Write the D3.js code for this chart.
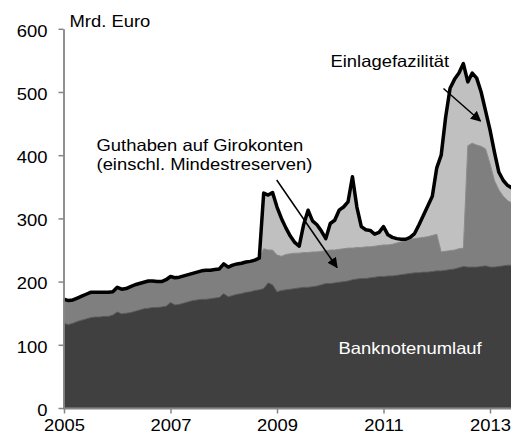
<!DOCTYPE html>
<html lang="de">
<head>
<meta charset="UTF-8">
<title>Zentralbankgeld im Euroraum</title>
<script src="https://cdnjs.cloudflare.com/ajax/libs/d3/7.8.5/d3.min.js"></script>
<style>
    body { margin: 0; background: #fff; }
    svg text { font-family: "Liberation Sans", Arial, sans-serif; font-size: 16.3px; fill: #000; }
</style>
</head>
<body>
<div id="chart"></div>
<script>
// monthly values, Jan 2005 .. Jun 2013 (Mrd. Euro)
const banknoten = [
    134, 132, 134, 137, 139, 141, 143, 144, 144, 145, 145, 147,
    152, 149, 150, 151, 153, 155, 157, 158, 159, 159, 160, 161,
    167, 163, 164, 166, 168, 170, 171, 172, 172, 173, 174, 175,
    181, 176, 178, 180, 181, 183, 184, 186, 187, 189, 198, 195,
    184, 186, 187, 188, 189, 190, 191, 191, 192, 193, 195, 197,
    197, 198, 199, 200, 201, 203, 204, 205, 205, 206, 207, 208,
    208, 209, 209, 210, 211, 212, 213, 214, 214, 215, 215, 216,
    217, 217, 218, 219, 220, 222, 224, 223, 223, 223, 224, 225,
    223, 223, 224, 225, 226, 226
];
const girokonten = [
    38, 38, 37, 37, 38, 39, 40, 39, 39, 38, 38, 37,
    39, 39, 39, 41, 42, 42, 42, 43, 42, 41, 40, 42,
    41, 43, 43, 43, 43, 43, 44, 45, 46, 45, 45, 45,
    47, 47, 48, 48, 48, 48, 48, 48, 50, 63, 52, 55,
    58, 54, 56, 56, 56, 55, 55, 55, 55, 54, 53, 52,
    53, 52, 52, 52, 52, 50, 50, 49, 50, 49, 49, 49,
    50, 49, 50, 51, 52, 54, 54, 54, 55, 55, 56, 57,
    58, 30, 30, 30, 30, 30, 29, 192, 196, 193, 190, 185,
    164, 137, 121, 110, 102, 98
];
const einlagefazilitaet = [
    0, 0, 0, 0, 0, 0, 0, 0, 0, 0, 0, 0,
    0, 0, 0, 0, 0, 0, 0, 0, 0, 0, 0, 0,
    0, 0, 0, 0, 0, 0, 0, 0, 0, 0, 0, 0,
    0, 0, 0, 0, 0, 0, 0, 0, 0, 88, 87, 91,
    76, 60, 42, 28, 17, 11, 44, 67, 49, 43, 32, 19,
    42, 47, 62, 66, 73, 113, 64, 33, 27, 26, 19, 21,
    29, 16, 11, 7, 4, 1, 3, 8, 21, 35, 49, 62,
    105, 153, 212, 257, 270, 278, 292, 101, 111, 106, 86, 60,
    53, 45, 28, 25, 24, 24
];
const yTicks = [0, 100, 200, 300, 400, 500, 600];
const xTicks = [2005, 2007, 2009, 2011, 2013];

const width = 511;
const height = 434;
const sx = 1.13; // text in the original is a little wide

const rows = banknoten.map((b, i) => ({
    t: 2005 + i / 12,
    banknoten: b,
    girokonten: girokonten[i],
    einlage: einlagefazilitaet[i]
}));

const svg = d3.select("#chart")
    .append("svg")
    .attr("width", width)
    .attr("height", height);

const x = d3.scaleLinear().domain([2005, 2013]).range([64, 490]);
const y = d3.scaleLinear().domain([0, 600]).range([408, 28.8]);

const stack = d3.stack().keys(["banknoten", "girokonten", "einlage"]);
const layers = stack(rows);
const colors = ["#404040", "#7f7f7f", "#c0c0c0"];
const edges = ["#5a5a5a", "#8c8c8c", "#c0c0c0"];

const area = d3.area()
    .x(d => x(d.data.t))
    .y0(d => y(d[0]))
    .y1(d => y(d[1]));

// draw top layer first so the lower ones sit on it
svg.append("g")
    .selectAll("path")
    .data(layers.slice().reverse())
    .enter()
    .append("path")
    .attr("d", area)
    .attr("fill", (d, i) => colors[2 - i])
    .attr("stroke", (d, i) => edges[2 - i])
    .attr("stroke-width", 1);

// total line
const line = d3.line()
    .x(d => x(d.data.t))
    .y(d => y(d[1]));

svg.append("path")
    .datum(layers[2])
    .attr("d", line)
    .attr("fill", "none")
    .attr("stroke", "#000")
    .attr("stroke-width", 3.5)
    .attr("stroke-linejoin", "round");

// axes
const yAxis = svg.append("g")
    .attr("transform", "translate(63.5,0)")
    .call(d3.axisLeft(y).tickValues(yTicks).tickSize(5).tickSizeOuter(0));
yAxis.select(".domain").attr("stroke", "#858585").attr("stroke-width", 1.8);
yAxis.selectAll(".tick line").attr("stroke", "#858585").attr("stroke-width", 1.5);
yAxis.selectAll(".tick text")
    .attr("x", -16 / sx)
    .attr("dy", null)
    .attr("y", 7.2)
    .attr("transform", `scale(${sx},1)`)
    .style("font-size", "16.3px")
    .style("font-family", "'Liberation Sans', Arial, sans-serif");

svg.append("line")
    .attr("x1", 63).attr("x2", width)
    .attr("y1", 408.5).attr("y2", 408.5)
    .attr("stroke", "#858585")
    .attr("stroke-width", 1.8);

const xAxis = svg.append("g")
    .attr("transform", "translate(0,408.5)")
    .call(d3.axisBottom(x).tickValues(xTicks).tickFormat(d3.format("d")).tickSize(5).tickSizeOuter(0));
xAxis.select(".domain").remove();
xAxis.selectAll(".tick line").attr("stroke", "#858585").attr("stroke-width", 1.5);
xAxis.selectAll(".tick text")
    .attr("dy", null)
    .attr("y", 22.5)
    .attr("transform", `scale(${sx},1)`)
    .style("font-size", "16.3px")
    .style("font-family", "'Liberation Sans', Arial, sans-serif");

// labels
function label(px, py, str, color) {
    svg.append("text")
        .attr("transform", `translate(${px},${py}) scale(${sx},1)`)
        .style("fill", color || "#000")
        .text(str);
}
label(69.5, 26.7, "Mrd. Euro");
label(96.5, 150.5, "Guthaben auf Girokonten");
label(96.5, 169.5, "(einschl. Mindestreserven)");
label(330.5, 67, "Einlagefazilität");
label(338.5, 354, "Banknotenumlauf", "#fff");

// arrows
svg.append("defs").append("marker")
    .attr("id", "head")
    .attr("viewBox", "0 0 10 10")
    .attr("refX", 9).attr("refY", 5)
    .attr("markerWidth", 7).attr("markerHeight", 7)
    .attr("markerUnits", "strokeWidth")
    .attr("orient", "auto")
    .append("path")
    .attr("d", "M0,0 L10,5 L0,10 Z")
    .attr("fill", "#000");

const arrows = [
    [276.7, 180, 337, 267.5],
    [443.5, 88.5, 480.5, 121]
];
svg.append("g")
    .selectAll("line")
    .data(arrows)
    .enter()
    .append("line")
    .attr("x1", d => d[0]).attr("y1", d => d[1])
    .attr("x2", d => d[2]).attr("y2", d => d[3])
    .attr("stroke", "#000")
    .attr("stroke-width", 1.5)
    .attr("marker-end", "url(#head)");
</script>
</body>
</html>
